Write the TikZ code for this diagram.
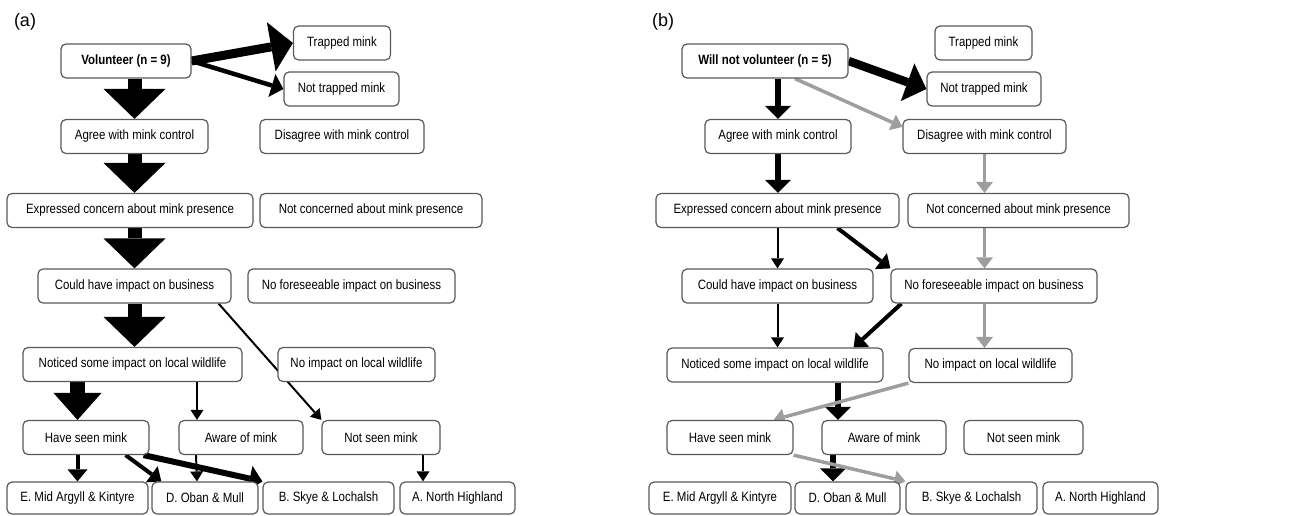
\documentclass[tikz,border=0pt]{standalone}
\usepackage{fontspec}
\setmainfont{Liberation Sans}[FakeStretch=0.85]
\newfontfamily\panelfont{Liberation Sans}
\usetikzlibrary{arrows.meta}
\pgfdeclarelayer{bg}
\pgfsetlayers{bg,main}
\begin{document}
\begin{tikzpicture}[x=1pt,y=-1pt]
  \tikzstyle{box}=[rectangle,rounded corners=5pt,draw=black!65,line width=1.2pt,fill=white,minimum height=34pt,inner sep=0pt,font=\fontsize{13.5}{15}\selectfont]
  \tikzstyle{panel}=[font=\panelfont\fontsize{18}{20}\selectfont]
  \tikzstyle{flowfine}=[line width=2pt,-{Triangle[width=13pt,length=10pt,line width=0pt]}]
  \tikzstyle{flowmid}=[line width=4pt,-{Triangle[width=20pt,length=12pt,line width=0pt]}]
  \tikzstyle{flowstrong}=[line width=6pt,-{Triangle[width=26pt,length=13pt,line width=0pt]}]
  \tikzstyle{flowgrey}=[color=black!38,line width=3.5pt,-{Triangle[width=17pt,length=11pt,line width=0pt]}]
  \tikzstyle{flowblock}=[line width=14pt,-{Triangle[width=62pt,length=30pt,line width=0pt]}]
  \useasboundingbox (0,0) rectangle (1293,515);

  % (a) volunteers
  \node [panel] (alab) at (25,22) {(a)};
  \node [box,minimum width=130pt] (avol) at (126,61) {\bfseries Volunteer (n = 9)};
  \node [box,minimum width=97pt] (atrap) at (342,43) {Trapped mink};
  \node [box,minimum width=115pt] (antrap) at (341.5,89) {Not trapped mink};
  \node [box,minimum width=147pt] (aagree) at (134.5,136.5) {Agree with mink control};
  \node [box,minimum width=164pt] (adis) at (342,136.5) {Disagree with mink control};
  \node [box,minimum width=246pt] (aexpr) at (130,210.5) {Expressed concern about mink presence};
  \node [box,minimum width=222pt] (anconc) at (371,210.5) {Not concerned about mink presence};
  \node [box,minimum width=193pt] (acould) at (134.5,286) {Could have impact on business};
  \node [box,minimum width=207pt] (anfore) at (351.5,286) {No foreseeable impact on business};
  \node [box,minimum width=219pt] (anotic) at (132.5,364.5) {Noticed some impact on local wildlife};
  \node [box,minimum width=157pt] (anoimp) at (356.5,364.5) {No impact on local wildlife};
  \node [box,minimum width=126pt] (ahave) at (86,437.5) {Have seen mink};
  \node [box,minimum width=124pt] (aaware) at (241,437.5) {Aware of mink};
  \node [box,minimum width=118pt] (anot) at (381,437.5) {Not seen mink};
  \node [box,minimum width=141pt,minimum height=32pt] (amid) at (77.5,498) {E. Mid Argyll \& Kintyre};
  \node [box,minimum width=106pt,minimum height=32pt] (aoban) at (205,498) {D. Oban \& Mull};
  \node [box,minimum width=131pt,minimum height=32pt] (askye) at (328.5,498) {B. Skye \& Lochalsh};
  \node [box,minimum width=115pt,minimum height=32pt] (anorth) at (457.5,498) {A. North Highland};

  % (b) non-volunteers
  \node [panel] (blab) at (663,22) {(b)};
  \node [box,minimum width=166pt] (bvol) at (765,61) {\bfseries Will not volunteer (n = 5)};
  \node [box,minimum width=97pt] (btrap) at (983.5,43) {Trapped mink};
  \node [box,minimum width=114pt] (bntrap) at (984,89) {Not trapped mink};
  \node [box,minimum width=146pt] (bagree) at (778,136.5) {Agree with mink control};
  \node [box,minimum width=163pt] (bdis) at (984.5,136.5) {Disagree with mink control};
  \node [box,minimum width=243pt] (bexpr) at (777.5,210.5) {Expressed concern about mink presence};
  \node [box,minimum width=221pt] (bnconc) at (1018.5,210.5) {Not concerned about mink presence};
  \node [box,minimum width=191pt] (bcould) at (777.5,286) {Could have impact on business};
  \node [box,minimum width=206pt] (bnfore) at (994,286) {No foreseeable impact on business};
  \node [box,minimum width=216pt] (bnotic) at (775,365) {Noticed some impact on local wildlife};
  \node [box,minimum width=163pt] (bnoimp) at (990.5,365.5) {No impact on local wildlife};
  \node [box,minimum width=126pt] (bhave) at (730,437.5) {Have seen mink};
  \node [box,minimum width=124pt] (baware) at (884,437.5) {Aware of mink};
  \node [box,minimum width=119pt] (bnot) at (1023.5,437.5) {Not seen mink};
  \node [box,minimum width=142pt,minimum height=32pt] (bmid) at (720,498) {E. Mid Argyll \& Kintyre};
  \node [box,minimum width=105pt,minimum height=32pt] (boban) at (847.5,498) {D. Oban \& Mull};
  \node [box,minimum width=131pt,minimum height=32pt] (bskye) at (971.5,498) {B. Skye \& Lochalsh};
  \node [box,minimum width=115pt,minimum height=32pt] (bnorth) at (1100.5,498) {A. North Highland};

  \begin{pgfonlayer}{bg}
    % flows in (a)
    \draw[line width=9pt,-{Triangle[width=50pt,length=22pt,line width=0pt]}] (avol.east) -- (atrap.west);
    \draw[line width=4.5pt,-{Triangle[width=24pt,length=12pt,line width=0pt]}] (avol.east) -- (antrap.west);
    \draw[flowblock] (avol.south -| aagree.north) -- (aagree);
    \draw[flowblock] (aagree) -- (aagree |- aexpr.north);
    \draw[flowblock] (acould.north |- aexpr.south) -- (acould);
    \draw[flowblock] (acould) -- (acould |- anotic.north);
    \draw[line width=15pt,-{Triangle[width=48pt,length=27pt,line width=0pt]}] (anotic.south -| amid) -- (ahave.north -| amid);
    \draw[flowfine] ([xshift=64.5pt]anotic.south) -- ([xshift=-44pt]aaware.north);
    \draw[flowfine] ([xshift=-13pt]acould.south east) -- (anot.north west);
    \draw[flowmid] (ahave.south -| amid) -- (amid);
    \draw[flowmid] ([xshift=-24pt]ahave.south east) -- ([xshift=10pt]aoban.north west);
    \draw[flowstrong] ([xshift=-6pt]ahave.south east) -- (askye.north west);
    \draw[flowfine] ([xshift=-45pt]aaware.south) -- ([xshift=-8pt]aoban.north);
    \draw[flowfine] ([xshift=42pt]anot.south) -- ([xshift=-34.5pt]anorth.north);

    % flows in (b)
    \draw[line width=8.5pt,-{Triangle[width=40pt,length=20pt,line width=0pt]}] (bvol.east) -- (bntrap.west);
    \draw[flowstrong] (bagree.north |- bvol.south) -- (bagree);
    \draw[flowstrong] (bagree) -- (bagree |- bexpr.north);
    \draw[flowfine] (bexpr) -- (bexpr |- bcould.north);
    \draw[flowmid] ([xshift=60pt]bexpr.south) -- (bnfore.north west);
    \draw[flowfine] (bcould) -- (bcould |- bnotic.north);
    \draw[flowmid] ([xshift=11pt]bnfore.south west) -- ([xshift=-30pt]bnotic.north east);
    \draw[flowstrong] ([xshift=63pt]bnotic.south) -- ([xshift=-46pt]baware.north);
    \draw[flowstrong] ([xshift=-51pt]baware.south) -- ([xshift=-14.5pt]boban.north);
    \draw[flowgrey] ([xshift=30pt]bvol.south) -- ([yshift=-8pt]bdis.north west);
    \draw[flowgrey] (bdis) -- (bdis |- bnconc.north);
    \draw[flowgrey] (bdis |- bnconc.south) -- (bdis |- bnfore.north);
    \draw[flowgrey] (bdis |- bnfore.south) -- (bdis |- bnoimp.north);
    \draw[flowgrey] (bnoimp.south west) -- ([xshift=-20pt]bhave.north east);
    \draw[flowgrey] (bhave.south east) -- (bskye.north west);
  \end{pgfonlayer}
\end{tikzpicture}
\end{document}
